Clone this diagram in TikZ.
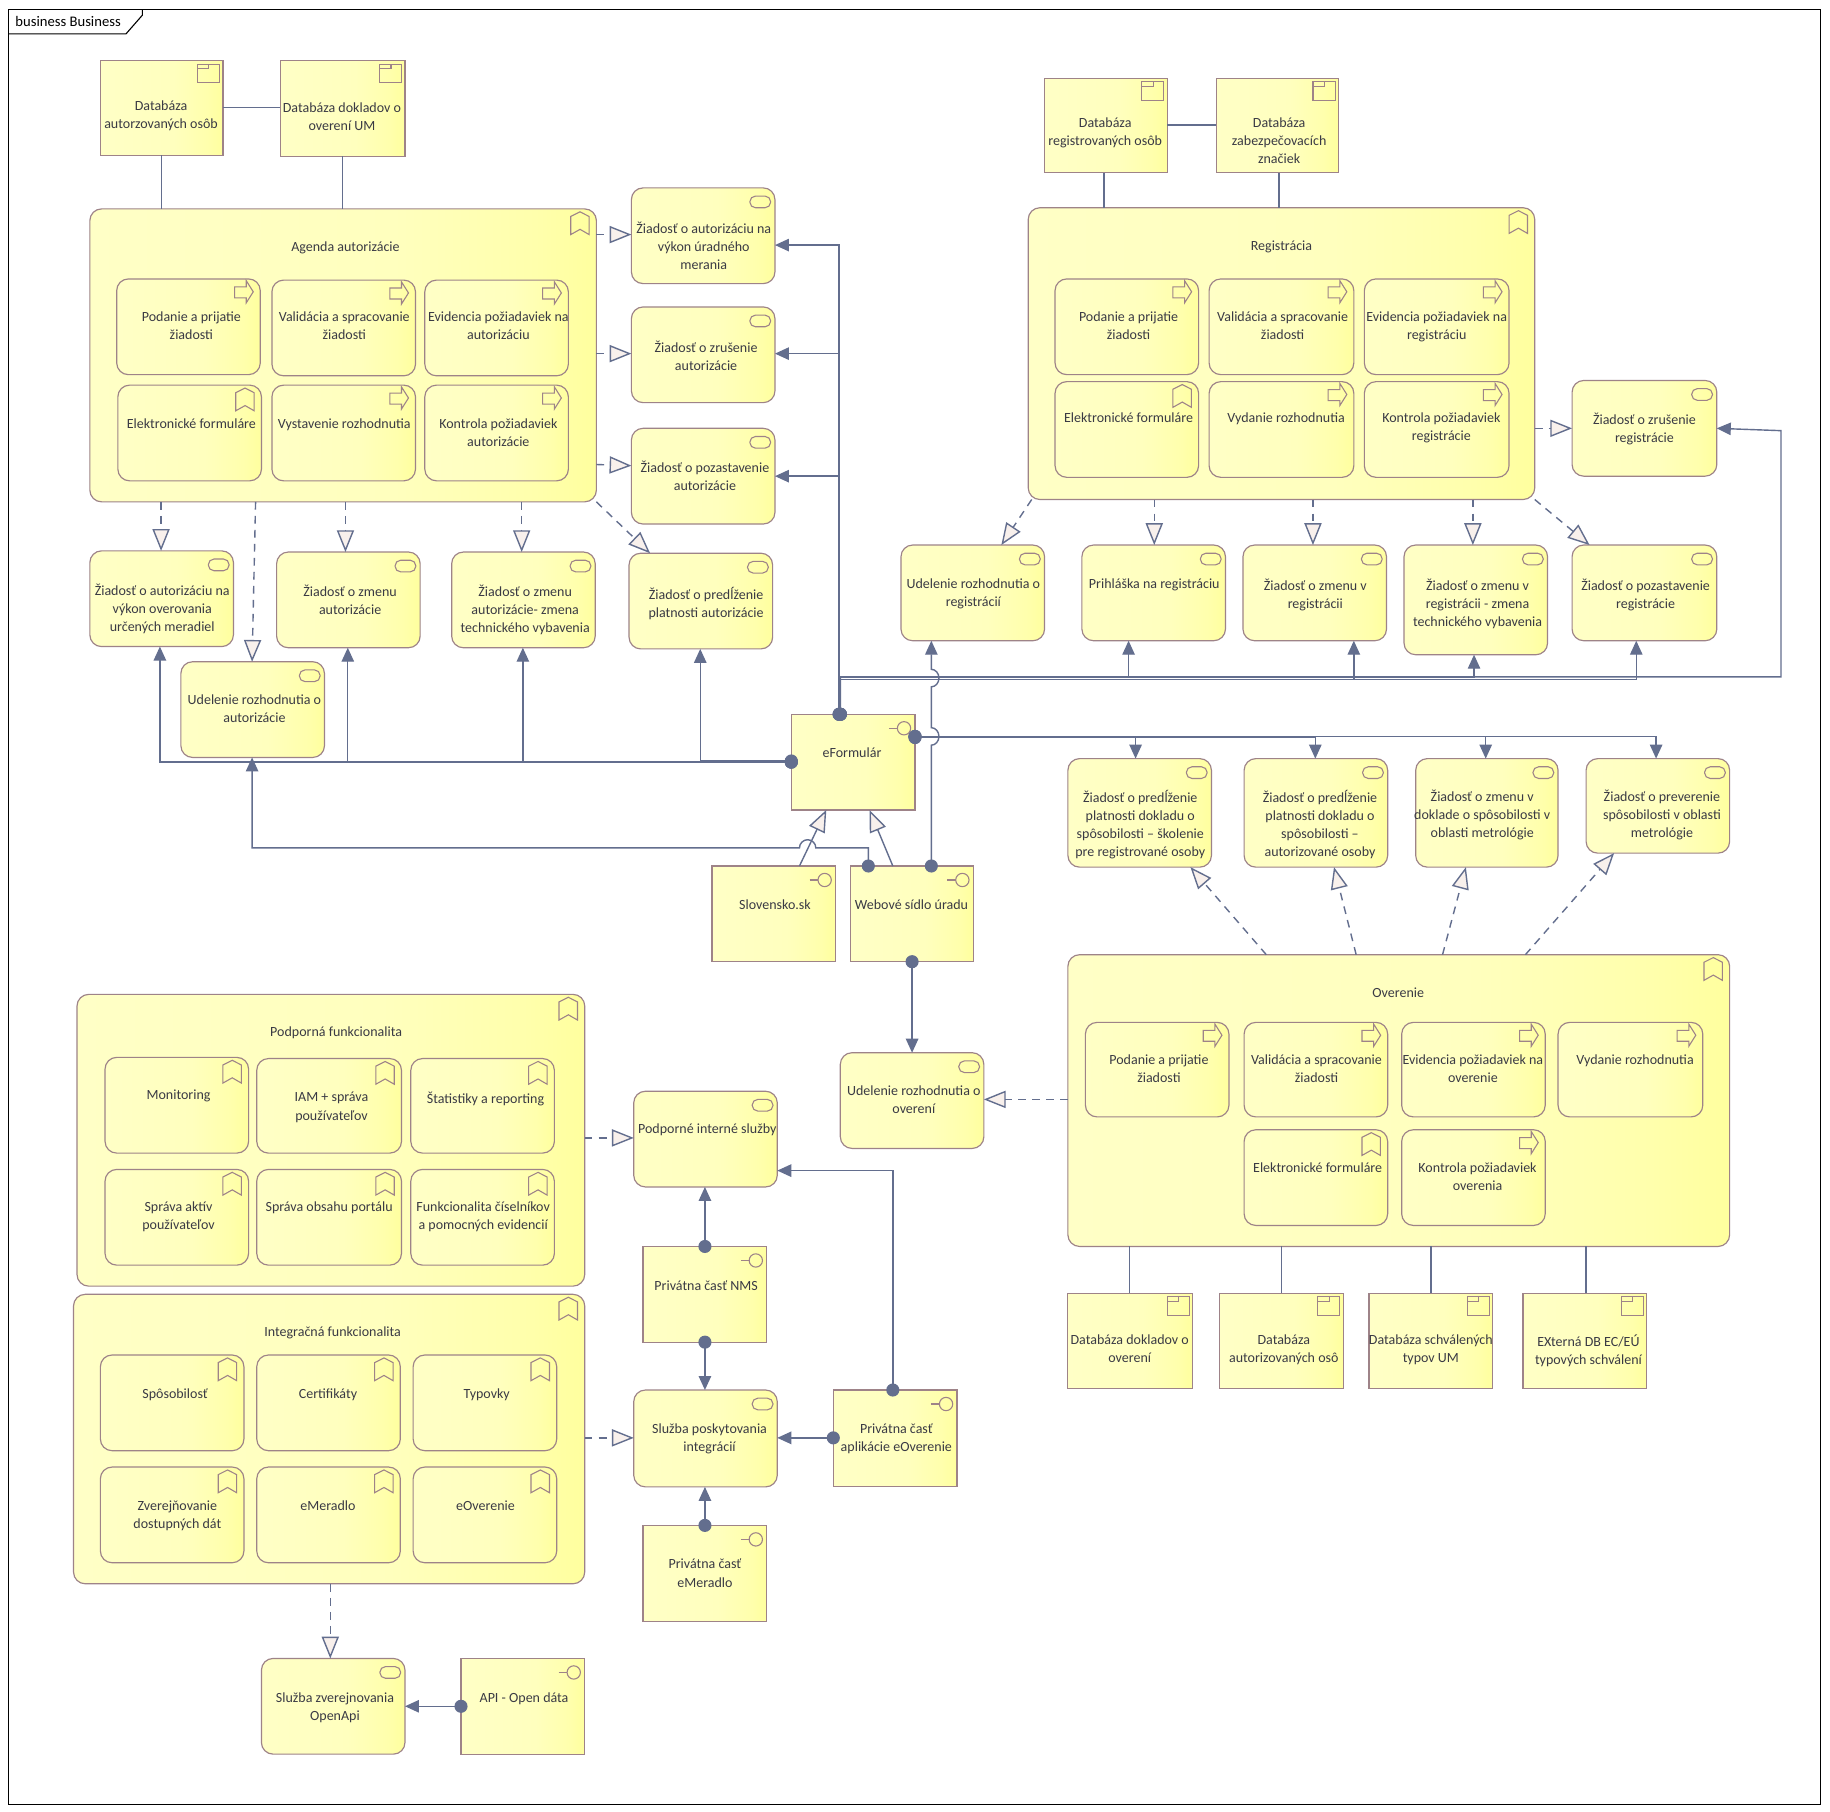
\documentclass[tikz,border=0pt]{standalone}
\usepackage{fontspec}
\setmainfont{Carlito}
\usetikzlibrary{arrows.meta}

\definecolor{boxline}{HTML}{9E8388}
\definecolor{connline}{HTML}{636E8E}
\definecolor{tipfill}{HTML}{F8F0EC}
\definecolor{boxtext}{HTML}{3A3A44}
\definecolor{palefill}{HTML}{FFFFC6}
\definecolor{midfill}{HTML}{FFFFBE}
\definecolor{latefill}{HTML}{FFFFAC}
\definecolor{deepfill}{HTML}{FFFF9E}
\pgfdeclarehorizontalshading{easky}{100bp}{color(0bp)=(palefill); color(25bp)=(palefill); color(55bp)=(midfill); color(69bp)=(latefill); color(75bp)=(deepfill); color(100bp)=(deepfill)}

\tikzset{
  rectbox/.style={draw=boxline,line width=0.75pt,shading=easky,inner sep=0pt,outer sep=0pt},
  roundbox/.style={rectbox,rounded corners=7.5pt},
  boxlabel/.style={text=boxtext,font=\fontsize{9}{11.6}\selectfont,align=center,anchor=north,inner sep=0pt,yshift=3.2pt},
  iconline/.style={draw=boxline,line width=0.7pt},
  svcicon/.pic={\draw[iconline,rounded corners=3.6pt] (-21.5,7) rectangle (-3.7,17);},
  procicon/.pic={\draw[iconline] (-22,6.8) -- (-12,6.8) -- (-12,1.5) -- (-6,11) -- (-12,20.5) -- (-12,16.2) -- (-22,16.2) -- cycle;},
  markicon/.pic={\draw[iconline] (-22,6.5) -- (-14,2.5) -- (-6.2,6.5) -- (-6.2,22) -- (-14,17.5) -- (-22,22) -- cycle;},
  dataicon/.pic={\draw[iconline] (-22,3) rectangle (-3,19); \draw[iconline] (-22,7) -- (-12,7) -- (-12,3);},
  porticon/.pic={\draw[iconline] (-9.4,12) circle (5.7); \draw[iconline] (-22.3,12) -- (-15.1,12);},
  plainlink/.style={draw=connline,line width=0.9pt},
  realize/.style={plainlink,dash pattern=on 5pt off 4pt,-{Triangle[length=14pt,width=11pt,fill=tipfill]}},
  special/.style={plainlink,-{Triangle[length=14pt,width=11pt,fill=tipfill]}},
  flowlink/.style={plainlink,shorten <=-4.2pt,{Circle[length=8.4pt,fill=connline]}-{Triangle[length=9pt,width=8pt,fill=connline]}},
}

% style, icon, name, x1, y1, x2, y2, text position (first line), text
\newcommand{\elembox}[9]{%
  \node[#1,minimum width={(#6-#4)*0.75pt},minimum height={(#7-#5)*0.75pt}] (#3) at ({(#4+#6)/2},{(#5+#7)/2}) {};
  \pic[yscale=-1] at (#6,#5) {#2};
  \node[boxlabel] (#3t) at (#8) {#9};
}

\begin{document}
\begin{tikzpicture}[x=0.75pt,y=0.75pt,yscale=-1,xscale=1]
        \useasboundingbox[fill=white] (0,0) rectangle (1568,1552);

        %Shape: Frame
        \draw [black,line width=0.7pt] (7,8) rectangle (1560,1546);
        \draw [black,line width=0.7pt] (7,29) -- (108,29) -- (122,13) -- (122,8);
        % Text Node
        \node [anchor=west,inner sep=0pt,text=black,font=\fontsize{9.4}{11.6}\selectfont] (frametag) at (13,18) {business Business};

        %Shape: Big groups
        \elembox{roundbox}{markicon}{agenda}{77}{179}{511}{430}{296,211}{Agenda autorizácie}
        \elembox{roundbox}{markicon}{registr}{881}{178}{1315}{428}{1098,210}{Registrácia}
        \elembox{roundbox}{markicon}{overenie}{915}{818}{1482}{1068}{1198,850}{Overenie}
        \elembox{roundbox}{markicon}{podporna}{66}{852}{501}{1102}{288,884}{Podporná funkcionalita}
        \elembox{roundbox}{markicon}{integr}{63}{1109}{501}{1357}{285,1141}{Integračná funkcionalita}

        %Shape: Agenda inner
        \elembox{roundbox}{procicon}{aone}{100}{239}{223}{321}{164,271}{Podanie a prijatie\\žiadosti}
        \elembox{roundbox}{procicon}{atwo}{233}{240}{356}{322}{295,271}{Validácia a spracovanie\\žiadosti}
        \elembox{roundbox}{procicon}{athree}{364}{240}{487}{322}{427,271}{Evidencia požiadaviek na\\autorizáciu}
        \elembox{roundbox}{markicon}{afour}{101}{330}{224}{412}{164,363}{Elektronické formuláre}
        \elembox{roundbox}{procicon}{afive}{233}{330}{356}{412}{295,363}{Vystavenie rozhodnutia}
        \elembox{roundbox}{procicon}{asix}{364}{330}{487}{412}{427,363}{Kontrola požiadaviek\\autorizácie}

        %Shape: Registracia inner
        \elembox{roundbox}{procicon}{rone}{904}{239}{1027}{321}{967,271}{Podanie a prijatie\\žiadosti}
        \elembox{roundbox}{procicon}{rtwo}{1036}{239}{1160}{321}{1099,271}{Validácia a spracovanie\\žiadosti}
        \elembox{roundbox}{procicon}{rthree}{1169}{239}{1293}{321}{1231,271}{Evidencia požiadaviek na\\registráciu}
        \elembox{roundbox}{markicon}{rfour}{904}{327}{1027}{409}{967,358}{Elektronické formuláre}
        \elembox{roundbox}{procicon}{rfive}{1036}{327}{1160}{409}{1102,358}{Vydanie rozhodnutia}
        \elembox{roundbox}{procicon}{rsix}{1169}{327}{1293}{409}{1235,358}{Kontrola požiadaviek\\registrácie}

        %Shape: Overenie inner
        \elembox{roundbox}{procicon}{oone}{930}{876}{1053}{957}{993,908}{Podanie a prijatie\\žiadosti}
        \elembox{roundbox}{procicon}{otwo}{1066}{876}{1189}{957}{1128,908}{Validácia a spracovanie\\žiadosti}
        \elembox{roundbox}{procicon}{othree}{1201}{876}{1324}{957}{1262,908}{Evidencia požiadaviek na\\overenie}
        \elembox{roundbox}{procicon}{ofour}{1335}{876}{1459}{957}{1401,908}{Vydanie rozhodnutia}
        \elembox{roundbox}{markicon}{ofive}{1066}{968}{1189}{1050}{1129,1000}{Elektronické formuláre}
        \elembox{roundbox}{procicon}{osix}{1201}{968}{1324}{1050}{1266,1000}{Kontrola požiadaviek\\overenia}

        %Shape: Podporna inner
        \elembox{roundbox}{markicon}{pone}{90}{906}{213}{988}{153,938}{Monitoring}
        \elembox{roundbox}{markicon}{ptwo}{220}{907}{344}{988}{284,940}{IAM + správa\\používateľov}
        \elembox{roundbox}{markicon}{pthree}{352}{907}{475}{988}{416,940}{Štatistiky a reporting}
        \elembox{roundbox}{markicon}{pfour}{90}{1002}{213}{1084}{153,1034}{Správa aktív\\používateľov}
        \elembox{roundbox}{markicon}{pfive}{220}{1002}{344}{1084}{282,1034}{Správa obsahu portálu}
        \elembox{roundbox}{markicon}{psix}{352}{1002}{475}{1084}{414,1034}{Funkcionalita číselníkov\\a pomocných evidencií}

        %Shape: Integracna inner
        \elembox{roundbox}{markicon}{ione}{86}{1161}{209}{1243}{150,1194}{Spôsobilosť}
        \elembox{roundbox}{markicon}{itwo}{220}{1161}{343}{1243}{281,1194}{Certifikáty}
        \elembox{roundbox}{markicon}{ithree}{354}{1161}{477}{1243}{417,1194}{Typovky}
        \elembox{roundbox}{markicon}{ifour}{86}{1257}{209}{1339}{152,1290}{Zverejňovanie\\dostupných dát}
        \elembox{roundbox}{markicon}{ifive}{220}{1257}{343}{1339}{281,1290}{eMeradlo}
        \elembox{roundbox}{markicon}{isix}{354}{1257}{477}{1339}{416,1290}{eOverenie}

        %Shape: Data objects
        \elembox{rectbox}{dataicon}{dbaut}{86}{52}{191}{133}{138,90}{Databáza\\autorzovaných osôb}
        \elembox{rectbox}{dataicon}{dbdok}{240}{52}{347}{134}{293,92}{Databáza dokladov o\\overení UM}
        \elembox{rectbox}{dataicon}{dbreg}{895}{67}{1000}{148}{947,105}{Databáza\\registrovaných osôb}
        \elembox{rectbox}{dataicon}{dbzab}{1042}{67}{1147}{148}{1096,105}{Databáza\\zabezpečovacích\\značiek}
        \elembox{rectbox}{dataicon}{dbovd}{915}{1108}{1022}{1190}{968,1148}{Databáza dokladov o\\overení}
        \elembox{rectbox}{dataicon}{dbaos}{1045}{1108}{1151}{1190}{1100,1148}{Databáza\\autorizovaných osô}
        \elembox{rectbox}{dataicon}{dbtyp}{1173}{1108}{1279}{1190}{1226,1148}{Databáza schválených\\typov UM}
        \elembox{rectbox}{dataicon}{dbext}{1305}{1108}{1411}{1190}{1361,1148}{EXterná DB EC/EÚ\\typových schválení}

        %Shape: Services
        \elembox{roundbox}{svcicon}{zauv}{541}{161}{664}{243}{603,194}{Žiadosť o autorizáciu na\\výkon úradného\\merania}
        \elembox{roundbox}{svcicon}{zzau}{541}{263}{664}{345}{605,296}{Žiadosť o zrušenie\\autorizácie}
        \elembox{roundbox}{svcicon}{zpau}{541}{367}{664}{449}{604,399}{Žiadosť o pozastavenie\\autorizácie}
        \elembox{roundbox}{svcicon}{zpred}{539}{474}{662}{556}{605,507}{Žiadosť o predĺženie\\platnosti autorizácie}
        \elembox{roundbox}{svcicon}{zvom}{77}{472}{200}{554}{139,504}{Žiadosť o autorizáciu na\\výkon overovania\\určených meradiel}
        \elembox{roundbox}{svcicon}{zzma}{237}{473}{360}{555}{300,505}{Žiadosť o zmenu\\autorizácie}
        \elembox{roundbox}{svcicon}{zzmt}{387}{473}{510}{555}{450,505}{Žiadosť o zmenu\\autorizácie- zmena\\technického vybavenia}
        \elembox{roundbox}{svcicon}{udaut}{155}{567}{278}{649}{218,599}{Udelenie rozhodnutia o\\autorizácie}
        \elembox{roundbox}{svcicon}{udreg}{772}{467}{895}{549}{834,500}{Udelenie rozhodnutia o\\registrácií}
        \elembox{roundbox}{svcicon}{prih}{927}{467}{1050}{549}{989,500}{Prihláška na registráciu}
        \elembox{roundbox}{svcicon}{zzmr}{1065}{467}{1188}{549}{1127,500}{Žiadosť o zmenu v\\registrácii}
        \elembox{roundbox}{svcicon}{zzmrt}{1203}{467}{1326}{561}{1266,500}{Žiadosť o zmenu v\\registrácii - zmena\\technického vybavenia}
        \elembox{roundbox}{svcicon}{zpor}{1347}{467}{1471}{549}{1410,500}{Žiadosť o pozastavenie\\registrácie}
        \elembox{roundbox}{svcicon}{zzrr}{1347}{326}{1471}{408}{1409,358}{Žiadosť o zrušenie\\registrácie}
        \elembox{roundbox}{svcicon}{zpdr}{915}{650}{1038}{743}{977,681}{Žiadosť o predĺženie\\platnosti dokladu o\\spôsobilosti – školenie\\pre registrované osoby}
        \elembox{roundbox}{svcicon}{zpda}{1066}{650}{1189}{743}{1131,681}{Žiadosť o predĺženie\\platnosti dokladu o\\spôsobilosti –\\autorizované osoby}
        \elembox{roundbox}{svcicon}{zzmd}{1213}{650}{1335}{743}{1270,681}{Žiadosť o zmenu v\\doklade o spôsobilosti v\\oblasti metrológie}
        \elembox{roundbox}{svcicon}{zprv}{1359}{650}{1482}{731}{1424,681}{Žiadosť o preverenie\\spôsobilosti v oblasti\\metrológie}
        \elembox{roundbox}{svcicon}{udov}{720}{902}{843}{984}{783,934}{Udelenie rozhodnutia o\\overení}
        \elembox{roundbox}{svcicon}{podp}{543}{935}{666}{1017}{606,967}{Podporné interné služby}
        \elembox{roundbox}{svcicon}{sluz}{543}{1191}{666}{1274}{608,1224}{Služba poskytovania\\integrácií}
        \elembox{roundbox}{svcicon}{open}{224}{1421}{347}{1503}{287,1454}{Služba zverejnovania\\OpenApi}

        %Shape: Interfaces
        \elembox{rectbox}{porticon}{eform}{678}{612}{784}{694}{730,645}{eFormulár}
        \elembox{rectbox}{porticon}{slov}{610}{742}{716}{824}{664,775}{Slovensko.sk}
        \elembox{rectbox}{porticon}{web}{729}{742}{834}{824}{781,775}{Webové sídlo úradu}
        \elembox{rectbox}{porticon}{nms}{551}{1068}{657}{1150}{605,1101}{Privátna časť NMS}
        \elembox{rectbox}{porticon}{pae}{714}{1191}{820}{1274}{768,1224}{Privátna časť\\aplikácie eOverenie}
        \elembox{rectbox}{porticon}{pem}{551}{1307}{657}{1389}{604,1340}{Privátna časť\\eMeradlo}
        \elembox{rectbox}{porticon}{api}{395}{1421}{501}{1503}{449,1454}{API - Open dáta}

        %Straight Lines: associations
        \draw [plainlink] (dbaut.east |- 0,92) -- (dbdok.west |- 0,92);
        \draw [plainlink] (dbaut.south) -- (agenda.north -| dbaut.south);
        \draw [plainlink] (dbdok.south) -- (agenda.north -| dbdok.south);
        \draw [plainlink] (dbreg.east |- 0,107) -- (dbzab.west |- 0,107);
        \draw [plainlink] (dbreg.south -| 946,0) -- (registr.north -| 946,0);
        \draw [plainlink] (dbzab.south -| 1096,0) -- (registr.north -| 1096,0);
        \draw [plainlink] (overenie.south -| 968,0) -- (dbovd.north -| 968,0);
        \draw [plainlink] (overenie.south -| 1098,0) -- (dbaos.north -| 1098,0);
        \draw [plainlink] (overenie.south -| 1226,0) -- (dbtyp.north -| 1226,0);
        \draw [plainlink] (overenie.south -| 1359,0) -- (dbext.north -| 1359,0);

        %Straight Lines: agenda realizations
        \draw [realize] (agenda.east |- 0,201) -- (zauv.west |- 0,201);
        \draw [realize] (agenda.east |- 0,303) -- (zzau.west |- 0,303);
        \draw [realize] (agenda.east |- 0,398) -- (zpau.west |- 0,399);
        \draw [realize] (agenda.south -| 511,0) -- (zpred.north -| 557,0);
        \draw [realize] (agenda.south -| 138,0) -- (zvom.north -| 138,0);
        \draw [realize] (agenda.south -| 219,0) -- (udaut.north -| 216,0);
        \draw [realize] (agenda.south -| 296,0) -- (zzma.north -| 296,0);
        \draw [realize] (agenda.south -| 447,0) -- (zzmt.north -| 447,0);

        %Straight Lines: registracia realizations
        \draw [realize] (registr.south -| 884,0) -- (udreg.north -| 858,0);
        \draw [realize] (registr.south -| 989,0) -- (prih.north -| 989,0);
        \draw [realize] (registr.south -| 1125,0) -- (zzmr.north -| 1125,0);
        \draw [realize] (registr.south -| 1262,0) -- (zzmrt.north -| 1262,0);
        \draw [realize] (registr.south -| 1315,0) -- (zpor.north -| 1362,0);
        \draw [realize] (registr.east |- 0,367) -- (zzrr.west |- 0,367);

        %Straight Lines: overenie realizations
        \draw [realize] (overenie.north -| 1085,0) -- (zpdr.south -| 1020,0);
        \draw [realize] (overenie.north -| 1162,0) -- (zpda.south -| 1143,0);
        \draw [realize] (overenie.north -| 1236,0) -- (zzmd.south -| 1256,0);
        \draw [realize] (overenie.north -| 1307,0) -- (zprv.south -| 1383,0);
        \draw [realize] (overenie.west |- 0,942) -- (udov.east |- 0,942);

        %Straight Lines: lower realizations
        \draw [realize] (podporna.east |- 0,975) -- (podp.west |- 0,975);
        \draw [realize] (integr.east |- 0,1232) -- (sluz.west |- 0,1232);
        \draw [realize] (integr.south -| 283,0) -- (open.north -| 283,0);

        %Straight Lines: specializations
        \draw [special] (slov.north -| 685,0) -- (eform.south -| 708,0);
        \draw [special] (web.north -| 765,0) -- (eform.south -| 745,0);

        %Curve Lines: eForm up and right
        \draw [flowlink] (eform.north -| 719,0) |- (zauv.east |- 0,210);
        \draw [flowlink] (eform.north -| 719,0) |- (zzau.east |- 0,303);
        \draw [flowlink] (eform.north -| 719,0) |- (zpau.east |- 0,408);
        \draw [flowlink] (eform.north -| 720,0) |- (967,580) -- (prih.south -| 967,0);
        \draw [flowlink] (eform.north -| 720,0) |- (1160,582) -- (zzmr.south -| 1160,0);
        \draw [flowlink] (eform.north -| 720,0) |- (1263,580) -- (zzmrt.south -| 1263,0);
        \draw [flowlink] (eform.north -| 720,0) |- (1402,582) -- (zpor.south -| 1402,0);
        \draw [flowlink] (eform.north -| 720,0) |- (1526,580) -- (1526,369) -- (zzrr.east |- 0,367);

        %Curve Lines: eForm right
        \draw [flowlink] (eform.east |- 0,631) -| (zpdr.north -| 973,0);
        \draw [flowlink] (eform.east |- 0,632) -| (zpda.north -| 1127,0);
        \draw [flowlink] (eform.east |- 0,631) -| (zzmd.north -| 1273,0);
        \draw [flowlink] (eform.east |- 0,631) -| (zprv.north -| 1419,0);

        %Curve Lines: eForm left
        \draw [flowlink] (eform.west |- 0,652) -| (zpred.south -| 600,0);
        \draw [flowlink] (eform.west |- 0,653) -| (zzmt.south -| 448,0);
        \draw [flowlink] (eform.west |- 0,653) -| (zzma.south -| 298,0);
        \draw [flowlink] (eform.west |- 0,653) -| (zvom.south -| 137,0);

        %Curve Lines: web hops
        \draw [flowlink] (web.north -| 798,0) -- (798,638.5) arc [start angle=90,end angle=-90,x radius=6.5,y radius=7.5] -- (798,588.5) arc [start angle=90,end angle=-90,x radius=6.5,y radius=7.5] -- (udreg.south -| 798,0);
        \draw [flowlink] (web.north -| 744,0) -- (744,726.5) -- (699,726.5) arc [start angle=0,end angle=-180,radius=7] -- (216,726.5) -- (udaut.south -| 216,0);
        \draw [flowlink] (web.south) -- (udov.north -| web.south);

        %Straight Lines: lower flows
        \draw [flowlink] (nms.north -| 604,0) -- (podp.south -| 604,0);
        \draw [flowlink] (nms.south -| 604,0) -- (sluz.north -| 604,0);
        \draw [flowlink] (pem.north -| 604,0) -- (sluz.south -| 604,0);
        \draw [flowlink] (pae.west |- 0,1232) -- (sluz.east |- 0,1232);
        \draw [flowlink] (pae.north -| 765,0) |- (podp.east |- 0,1003);
        \draw [flowlink] (api.west |- 0,1462) -- (open.east |- 0,1462);

\end{tikzpicture}
\end{document}
